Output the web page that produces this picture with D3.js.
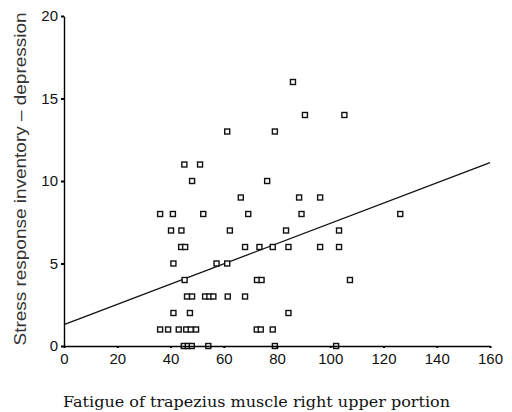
<!DOCTYPE html>
<html><head><meta charset="utf-8">
<script src="https://cdn.jsdelivr.net/npm/d3@7"></script>
<style>body{margin:0;background:#fff}svg{display:block}</style>
</head><body>
<svg id="c" width="512" height="412"></svg>
<script>
const xValues = [86,90.5,105.3,61.3,79.2,45.2,51.1,48.1,76.3,66.4,88.3,96.2,
  36.1,40.9,52.3,69.2,89.2,126.3,
  40.2,44.1,62.3,83.4,103.3,
  44.0,45.5,68.0,73.4,78.4,84.3,96.2,103.3,
  41.1,57.3,61.3,
  45.3,72.5,74.2,107.4,
  46.2,48.1,53.0,54.6,56.1,61.5,68.0,
  41.1,47.3,84.3,
  36.1,39.1,43.1,45.9,47.6,49.6,72.4,73.9,78.4,
  45.0,46.5,48.0,54.2,79.2,102.2];
const yValues = [16,14,14,13,13,11,11,10,10,9,9,9,
  8,8,8,8,8,8,
  7,7,7,7,7,
  6,6,6,6,6,6,6,6,
  5,5,5,
  4,4,4,4,
  3,3,3,3,3,3,3,
  2,2,2,
  1,1,1,1,1,1,1,1,1,
  0,0,0,0,0,0];
const xTicks = [0,20,40,60,80,100,120,140,160];
const yTicks = [0,5,10,15,20];
const fitLine = [1.3, 0.0613]; // intercept, slope
const xTitle = "Fatigue of trapezius muscle right upper portion";
const yTitle = "Stress response inventory \u2013 depression";

const svg = d3.select("#c");
const x = d3.scaleLinear().domain([0,160]).range([64,490]);
const y = d3.scaleLinear().domain([0,20]).range([346,16]);

// regression line
svg.append("line")
  .attr("x1", x(0)).attr("y1", y(fitLine[0]))
  .attr("x2", x(160)).attr("y2", y(fitLine[0] + fitLine[1]*160))
  .attr("stroke","#111").attr("stroke-width",1.3);

// points
const pts = xValues.map((v,i)=>({x:v,y:yValues[i]}));
svg.append("g").selectAll("rect").data(pts).join("rect")
  .attr("x", d=>x(d.x)-2.5).attr("y", d=>y(d.y)-2.5)
  .attr("width",5).attr("height",5)
  .attr("fill","#fff").attr("stroke","#111").attr("stroke-width",1.4);

// axes
const xAxis = d3.axisBottom(x).tickValues(xTicks).tickSize(2).tickPadding(5).tickSizeOuter(0);
const yAxis = d3.axisLeft(y).tickValues(yTicks).tickSize(3).tickPadding(3).tickSizeOuter(0);
const gx = svg.append("g").attr("transform","translate(0,346)").call(xAxis);
const gy = svg.append("g").attr("transform","translate(64,0)").call(yAxis);
[gx,gy].forEach(g=>{
  g.select(".domain").attr("stroke","#000").attr("stroke-width",1.4);
  g.selectAll(".tick line").attr("stroke","#000").attr("stroke-width",2);
  g.selectAll(".tick text").attr("fill","#111")
    .style("font-family","'Liberation Sans', Arial, sans-serif").style("font-size","15px");
});

// titles
svg.append("text").attr("x",63).attr("y",407)
  .attr("textLength",387).attr("lengthAdjust","spacingAndGlyphs")
  .style("font-family","'DejaVu Serif','Liberation Serif',serif").style("font-size","15px")
  .attr("fill","#111").text(xTitle);
svg.append("text").attr("transform","translate(26,179) rotate(-90)")
  .attr("text-anchor","middle")
  .attr("textLength",333).attr("lengthAdjust","spacingAndGlyphs")
  .style("font-family","'Liberation Sans', Arial, sans-serif").style("font-size","16px")
  .attr("fill","#333").text(yTitle);
</script>
</body></html>
